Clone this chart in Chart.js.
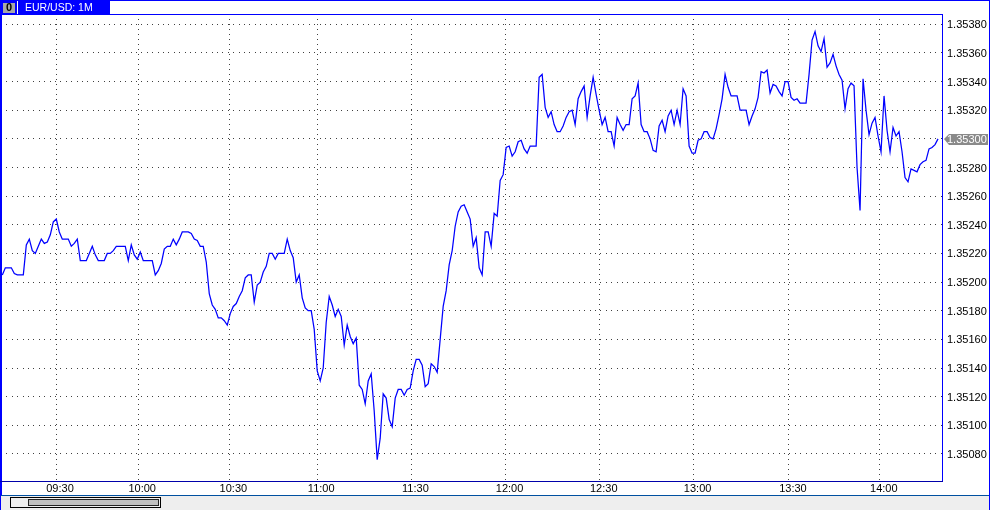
<!DOCTYPE html>
<html>
<head>
<meta charset="utf-8">
<style>html,body{margin:0;padding:0;background:#fff;overflow:hidden}canvas{display:block}</style>
<script src="https://cdn.jsdelivr.net/npm/chart.js@4/dist/chart.umd.min.js"></script>
</head>
<body>
<div style="width:990px;height:510px"><canvas id="c" width="990" height="510"></canvas></div>
<script>
const titleText = 'EUR/USD: 1M';
const priceTicks = [1.3508,1.351,1.3512,1.3514,1.3516,1.3518,1.352,1.3522,1.3524,1.3526,1.3528,1.353,1.3532,1.3534,1.3536,1.3538];
const timeTickSlots = [17.9,45.3,75.7,105,136.4,167.8,199.2,230.5,262.3,292.6];
const timeTickLabels = ['09:30','10:00','10:30','11:00','11:30','12:00','12:30','13:00','13:30','14:00'];
const closes = [
1.35205,1.35210,1.35210,1.35210,1.35206,1.35205,1.35205,1.35205,1.35226,1.35230,
1.35222,1.35220,1.35225,1.35230,1.35227,1.35228,1.35233,1.35242,1.35244,1.35235,
1.35230,1.35230,1.35230,1.35225,1.35227,1.35230,1.35215,1.35215,1.35215,1.35220,
1.35225,1.35219,1.35215,1.35215,1.35215,1.35220,1.35220,1.35222,1.35225,1.35225,
1.35225,1.35225,1.35215,1.35226,1.35219,1.35216,1.35221,1.35215,1.35215,1.35215,
1.35215,1.35205,1.35208,1.35213,1.35223,1.35225,1.35225,1.35230,1.35226,1.35230,
1.35235,1.35235,1.35235,1.35234,1.35230,1.35229,1.35225,1.35225,1.35214,1.35192,
1.35184,1.35181,1.35175,1.35175,1.35173,1.35170,1.35178,1.35183,1.35185,1.35190,
1.35194,1.35203,1.35205,1.35205,1.35186,1.35198,1.35200,1.35207,1.35211,1.35220,
1.35220,1.35216,1.35220,1.35220,1.35220,1.35230,1.35222,1.35217,1.35200,1.35205,
1.35189,1.35182,1.35180,1.35180,1.35167,1.35138,1.35131,1.35140,1.35172,1.35190,
1.35184,1.35176,1.35181,1.35176,1.35156,1.35170,1.35162,1.35157,1.35161,1.35128,
1.35125,1.35115,1.35131,1.35136,1.35110,1.35076,1.35091,1.35122,1.35119,1.35104,
1.35099,1.35119,1.35125,1.35125,1.35121,1.35125,1.35126,1.35138,1.35146,1.35146,
1.35142,1.35127,1.35129,1.35143,1.35141,1.35137,1.35160,1.35183,1.35194,1.35212,
1.35222,1.35239,1.35249,1.35253,1.35254,1.35249,1.35244,1.35225,1.35231,1.35210,
1.35205,1.35235,1.35235,1.35225,1.35248,1.35246,1.35271,1.35275,1.35294,1.35295,
1.35288,1.35291,1.35298,1.35299,1.35293,1.35290,1.35295,1.35295,1.35295,1.35343,
1.35345,1.35322,1.35315,1.35319,1.35310,1.35305,1.35305,1.35309,1.35315,1.35319,
1.35320,1.35310,1.35328,1.35333,1.35337,1.35315,1.35330,1.35343,1.35331,1.35320,
1.35310,1.35315,1.35305,1.35305,1.35295,1.35315,1.35310,1.35306,1.35310,1.35310,
1.35328,1.35330,1.35339,1.35310,1.35305,1.35305,1.35300,1.35292,1.35291,1.35309,
1.35313,1.35305,1.35316,1.35320,1.35310,1.35320,1.35310,1.35335,1.35330,1.35295,
1.35290,1.35290,1.35299,1.35300,1.35305,1.35305,1.35301,1.35300,1.35307,1.35317,
1.35328,1.35345,1.35336,1.35330,1.35330,1.35330,1.35320,1.35320,1.35320,1.35310,
1.35316,1.35321,1.35329,1.35347,1.35346,1.35348,1.35332,1.35338,1.35337,1.35333,
1.35330,1.35340,1.35340,1.35329,1.35327,1.35328,1.35325,1.35325,1.35325,1.35345,
1.35369,1.35375,1.35365,1.35361,1.35370,1.35350,1.35353,1.35359,1.35351,1.35345,
1.35341,1.35321,1.35335,1.35339,1.35337,1.35280,1.35250,1.35342,1.35320,1.35303,
1.35311,1.35315,1.35302,1.35291,1.35330,1.35306,1.35291,1.35308,1.35302,1.35305,
1.35291,1.35273,1.35270,1.35279,1.35278,1.35277,1.35282,1.35284,1.35285,1.35293,
1.35294,1.35296,1.35300
];
const points = closes.map((v,i)=>({x:i,y:v}));
const lastPrice = closes[closes.length-1];

const frame = {
  id:'frame',
  beforeDraw(ch){
    const g=ch.ctx;
    g.save();
    g.fillStyle='#fff'; g.fillRect(0,0,990,510);
    g.fillStyle='#eeeeee'; g.fillRect(0,495,990,15);
    g.restore();
  },
  afterDraw(ch){
    const g=ch.ctx;
    g.save();
    g.fillStyle='#0000ff';
    g.fillRect(0,0,990,1);
    g.fillRect(0,0,1,510);
    g.fillRect(1,0,1,495);
    g.fillRect(989,0,1,510);
    g.fillRect(0,14,942,1);
    g.fillRect(942,14,1,468);
    g.fillStyle='#0000aa';
    g.fillRect(0,481,943,1);
    g.fillStyle='#0050a0';
    g.fillRect(1,495,988,1);
    // tab
    g.fillStyle='#0000ff'; g.fillRect(0,0,110,14);
    g.fillStyle='#a8a8a8'; g.fillRect(3,3,12,10);
    g.fillStyle='#fff'; g.fillRect(17,1,1,13);
    g.fillStyle='#000'; g.font='bold 11px "Liberation Sans"'; g.textAlign='center'; g.textBaseline='middle';
    g.fillText('0',9,8);
    g.fillStyle='#fff'; g.font='10.5px "Liberation Sans"'; g.textAlign='left';
    g.fillText(titleText,25,8);
    // scrollbar
    g.fillStyle='#000'; g.fillRect(10,497,151,11);
    g.fillStyle='#eeeeee'; g.fillRect(11,498,149,9);
    g.fillStyle='#222'; g.fillRect(28,499,131,7);
    g.fillStyle='#c0c0c0'; g.fillRect(29,500,129,5);
    // last price marker
    const y=Math.round(ch.scales.y.getPixelForValue(lastPrice));
    g.fillStyle='#8a8a8a';
    g.beginPath(); g.moveTo(944,y); g.lineTo(949,y-5); g.lineTo(988,y-5); g.lineTo(988,y+6); g.lineTo(949,y+6); g.closePath(); g.fill();
    g.fillStyle='#fff'; g.font='11px "Liberation Sans"'; g.textAlign='left'; g.textBaseline='middle';
    g.fillText(lastPrice.toFixed(5),947,y+1);
    g.restore();
  }
};

new Chart(document.getElementById('c'),{
  type:'line',
  data:{datasets:[{data:points,borderColor:'#0000ff',borderWidth:1.25,pointRadius:0,tension:0,fill:false,clip:false}]},
  plugins:[frame],
  options:{
    responsive:false,animation:false,devicePixelRatio:1,
    layout:{padding:{left:1,top:14,right:0,bottom:0}},
    plugins:{legend:{display:false},title:{display:false},tooltip:{enabled:false}},
    scales:{
      x:{
        type:'linear',min:-0.44,max:313.66,
        afterBuildTicks(s){s.ticks=timeTickSlots.map(v=>({value:v}));},
        afterFit(s){s.height=29;},
        border:{display:false,dash:[1,4]},
        grid:{color:'#404040',drawTicks:false,lineWidth:1},
        ticks:{autoSkip:false,maxRotation:0,padding:1,labelOffset:4,color:'#000',
          font:{family:'"Liberation Sans"',size:11},
          callback:(v,i)=>timeTickLabels[i]}
      },
      y:{
        position:'right',min:1.350611,max:1.353872,
        afterBuildTicks(s){s.ticks=priceTicks.map(v=>({value:v}));},
        afterFit(s){s.width=47;},
        border:{display:false,dash:[1,4,1,5,1,4,1,5,1,4]},
        grid:{color:'#404040',drawTicks:false,lineWidth:1},
        ticks:{autoSkip:false,padding:4,labelOffset:1,color:'#000',
          font:{family:'"Liberation Sans"',size:11},
          callback:v=>v.toFixed(5)}
      }
    }
  }
});
</script>
</body>
</html>
